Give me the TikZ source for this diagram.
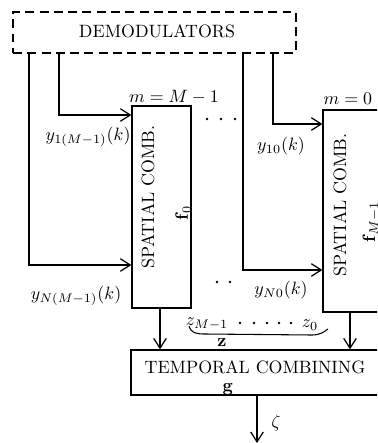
\documentclass[tikz,border=0pt]{standalone}
\usetikzlibrary{arrows.meta,fit}
\begin{document}
\begin{tikzpicture}[x=0.56pt,y=-0.56pt,
  line width=0.7pt,
  box/.style={draw,inner sep=0pt,line width=0.7pt},
  arr/.style={-{Straight Barb[length=5.5pt,width=7pt,line width=0.7pt]}},
  lbl/.style={inner sep=0pt},
  dot/.style={fill,circle,inner sep=0pt,minimum size=1.6pt}]
\useasboundingbox (0,0) rectangle (377,443);
\clip (0,0) rectangle (377,443);
% boxes
\node[box,dashed,dash pattern=on 5pt off 3pt,fit={(13,12) (296,53)}] (demod) {};
\node[lbl] (demodt) at (157,31) {DEMODULATORS};
\node[box,fit={(132,106) (191,308)}] (sc1) {};
\node[box,fit={(323,110) (420,312)}] (sc2) {};
\node[box,fit={(131,350) (430,395)}] (tc) {};
% texts in boxes
\node[lbl,rotate=90] (sc1t) at (148,197) {SPATIAL COMB.};
\node[lbl,rotate=90] (sc1f) at (183,213) {$\mathbf{f}_0$};
\node[lbl,rotate=90] (sc2t) at (340,205) {SPATIAL COMB.};
\node[lbl,rotate=90] (sc2f) at (371,222) {$\mathbf{f}_{M-1}$};
\node[lbl] (tct) at (255,367) {TEMPORAL COMBINING};
\node[lbl] (tcg) at (228,389) {$\mathbf{g}$};
% labels
\node[lbl] (m1) at (174,97) {$m=M-1$};
\node[lbl,anchor=west] (m0) at (323,99) {$m=0$};
\node[lbl] (y1) at (88,137) {$y_{1(M-1)}(k)$};
\node[lbl] (yN) at (76,296) {$y_{N(M-1)}(k)$};
\node[lbl] (y10) at (281,146) {$y_{10}(k)$};
\node[lbl] (yN0) at (281,290) {$y_{N0}(k)$};
% coordinates
\coordinate (a1) at (59,53);
\coordinate (a2) at (29,53);
\coordinate (b1) at (273,53);
\coordinate (b2) at (243,53);
% input connectors
\draw[arr] (a1) |- (sc1.west |- 0,115);
\draw[arr] (a2) |- (sc1.west |- 0,265);
\draw[arr] (b1) |- (sc2.west |- 0,124);
\draw[arr] (b2) |- (sc2.west |- 0,270);
% outputs
\draw[arr] (sc1.south -| 160,0) -- (tc.north -| 160,0);
\draw[arr] (sc2.south -| 350,0) -- (tc.north -| 350,0);
\coordinate (out) at (257,443);
\draw[arr] (tc.south -| 257,0) -- (out);
\node[lbl] (zeta) at (276,423) {$\zeta$};
% dots
\foreach \x in {207,221,235} \node[dot] at (\x,119) {};
\foreach \x in {217,230} \node[dot] at (\x,282) {};
% z brace
\node[lbl] (zm) at (207,324) {$z_{M-1}$};
\node[lbl] (z0) at (310,325) {$z_0$};
\foreach \x in {240,254,267,279,291} \node[dot] at (\x,323) {};
\draw[line width=0.6pt] (189,326) .. controls (191,333) and (196,334) .. (205,334) -- (312,335) .. controls (320,335) and (324,332) .. (328,329);
\node[lbl] (zb) at (222,343) {$\mathbf{z}$};
\end{tikzpicture}
\end{document}
